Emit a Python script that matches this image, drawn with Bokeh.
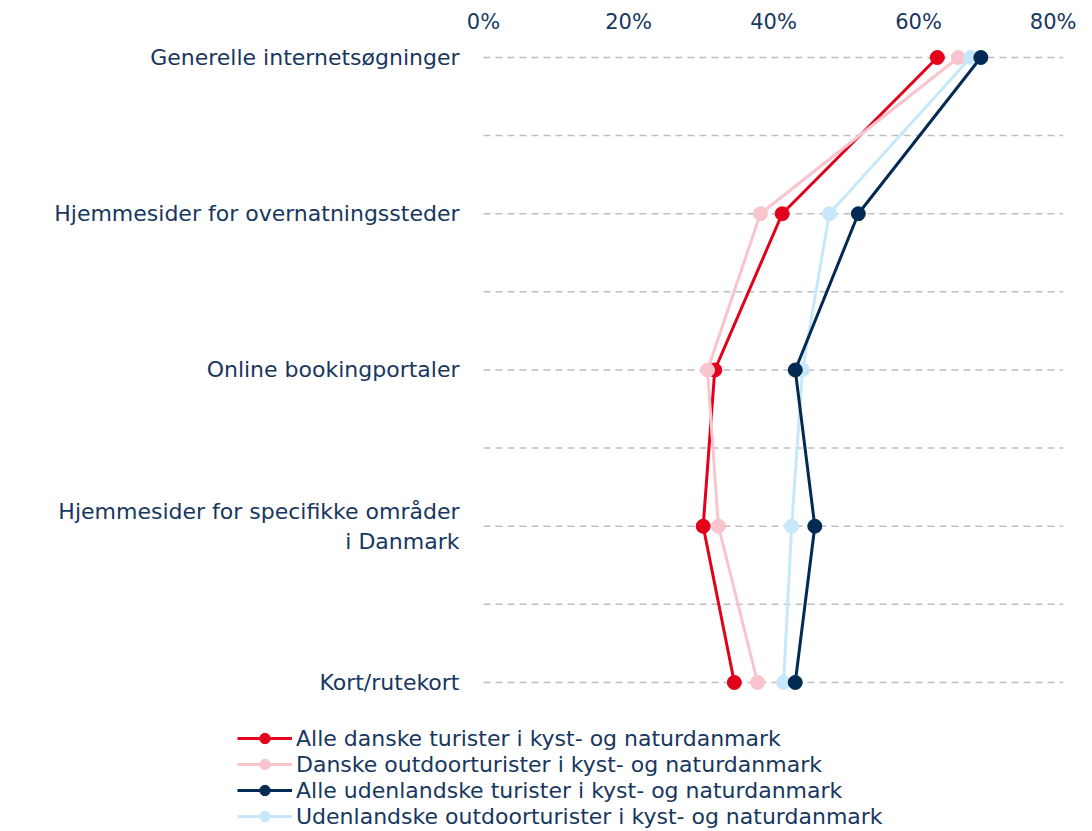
from bokeh.plotting import figure
from bokeh.models import (FixedTicker, Legend, LegendItem, NumeralTickFormatter,
                          Range1d, ColumnDataSource)
from bokeh.core.properties import value
from bokeh.embed import file_html
from bokeh.resources import INLINE

categories = [
    "Generelle internetsøgninger",
    "Hjemmesider for overnatningssteder",
    "Online bookingportaler",
    "Hjemmesider for specifikke områder\ni Danmark",
    "Kort/rutekort",
]
series_names = [
    "Alle danske turister i kyst- og naturdanmark",
    "Danske outdoorturister i kyst- og naturdanmark",
    "Alle udenlandske turister i kyst- og naturdanmark",
    "Udenlandske outdoorturister i kyst- og naturdanmark",
]
alle_danske = [0.626, 0.412, 0.319, 0.303, 0.346]
danske_outdoor = [0.655, 0.382, 0.309, 0.324, 0.378]
alle_udenlandske = [0.686, 0.517, 0.430, 0.457, 0.430]
udenlandske_outdoor = [0.672, 0.477, 0.440, 0.425, 0.414]
x_ticks = [0, 0.2, 0.4, 0.6, 0.8]
grid_rows = [0, 0.5, 1, 1.5, 2, 2.5, 3, 3.5, 4]

colors = ["#E3001B", "#F8C5CD", "#032A52", "#C6E8FA"]
text_color = "#17375E"
font = "DejaVu Sans"

# frame covers the whole figure width so that labels and legend can sit left of 0%
x_start = -483 / 725.0
p = figure(width=1076, height=829, frame_width=1063, frame_height=788,
           output_backend="svg", toolbar_location=None, x_axis_location="above",
           x_range=Range1d(x_start, 0.8), y_range=Range1d(4.941, -0.1024),
           min_border_left=0, min_border_right=13, min_border_top=41,
           min_border_bottom=0)
p.outline_line_color = None
p.background_fill_color = "white"
p.xgrid.visible = False
p.ygrid.visible = False
p.yaxis.visible = False

# dashed horizontal grid lines across the value range
gsrc = ColumnDataSource(dict(y=grid_rows, x0=[0] * len(grid_rows),
                             x1=[0.8] * len(grid_rows)))
p.segment(x0="x0", x1="x1", y0="y", y1="y", source=gsrc, line_color="#BFBFBF",
          line_dash="7 5", line_width=1.5)

ypos = list(range(len(categories)))

# category labels
lsrc = ColumnDataSource(dict(x=[0] * len(categories), y=ypos, t=categories))
p.text(x="x", y="y", text="t", source=lsrc, x_offset=-24, text_align="right",
       text_baseline="middle", text_font=value(font), text_font_size="22px",
       text_color=text_color, text_line_height=1.2)

series = [alle_danske, danske_outdoor, alle_udenlandske, udenlandske_outdoor]
draw_order = [0, 1, 3, 2]
renderers = {}
for i in draw_order:
    src = ColumnDataSource(dict(x=series[i], y=ypos))
    l = p.line("x", "y", source=src, line_color=colors[i], line_width=3)
    c = p.scatter("x", "y", source=src, size=14, fill_color=colors[i],
                  line_color=colors[i])
    renderers[i] = [l, c]

# x axis on top
xa = p.xaxis[0]
xa.ticker = FixedTicker(ticks=x_ticks)
xa.formatter = NumeralTickFormatter(format="0%")
xa.axis_line_color = None
xa.major_tick_line_color = None
xa.minor_tick_line_color = None
xa.major_tick_out = 0
xa.minor_tick_out = 0
xa.major_label_text_font = font
xa.major_label_text_font_size = "21px"
xa.major_label_text_color = text_color
xa.major_label_standoff = 8

items = [LegendItem(label=series_names[i], renderers=renderers[i]) for i in range(4)]
legend = Legend(items=items, location=(237, 0), orientation="vertical",
                label_text_font=font, label_text_font_size="22px",
                label_text_color=text_color, glyph_width=55, glyph_height=26,
                label_height=26, spacing=0, padding=0, margin=0,
                label_standoff=4, border_line_color=None,
                background_fill_alpha=0)
p.add_layout(legend, "center")

open("out.html", "w").write(file_html(p, INLINE))
